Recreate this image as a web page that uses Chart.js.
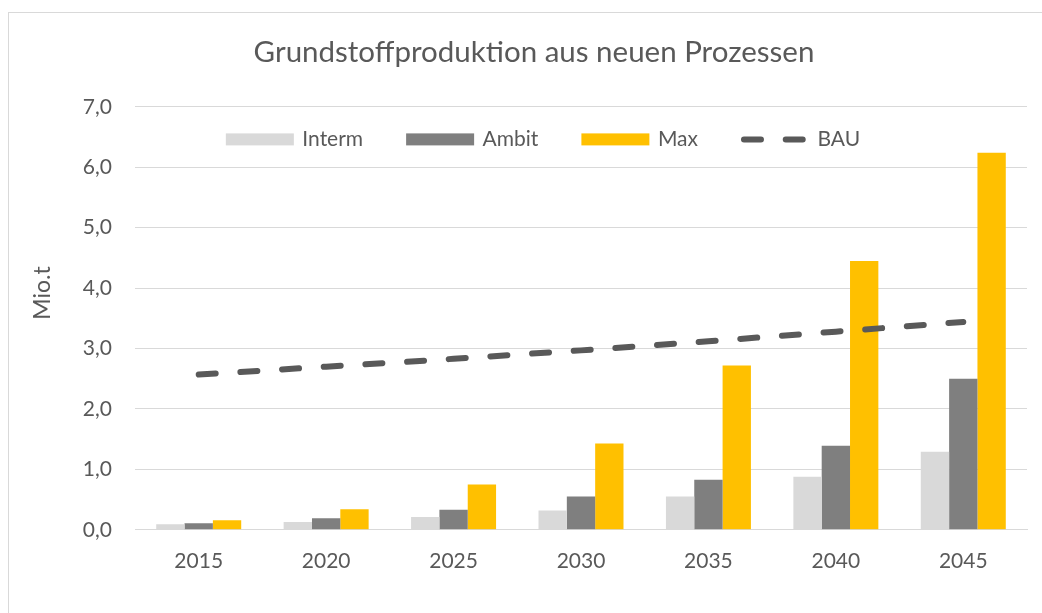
<!DOCTYPE html>
<html>
<head>
<meta charset="utf-8">
<script src="https://cdn.jsdelivr.net/npm/chart.js@4/dist/chart.umd.min.js"></script>
<style>
html,body{margin:0;padding:0;background:#fff;}
#wrap{width:1042px;height:613px;position:relative;}
</style>
</head>
<body>
<div id="wrap"><canvas id="c" width="1042" height="613"></canvas></div>
<script>
const categories = ["2015","2020","2025","2030","2035","2040","2045"];
const interm = [0.09, 0.13, 0.21, 0.32, 0.55, 0.88, 1.29];
const ambit  = [0.11, 0.19, 0.33, 0.55, 0.83, 1.39, 2.50];
const maxv   = [0.16, 0.34, 0.75, 1.43, 2.72, 4.45, 6.24];
const bau    = [2.57, 2.70, 2.83, 2.97, 3.12, 3.28, 3.44];
const yTicks = [0,1,2,3,4,5,6,7];
const titleText = "Grundstoffproduktion aus neuen Prozessen";
const yTitle = "Mio.t";

const FONT = "Lato, 'Open Sans', sans-serif";
const TXT = "#595959";

const framePlugin = {
  id: 'frame',
  beforeDraw(chart){
    const ctx = chart.ctx;
    ctx.save();
    ctx.fillStyle = '#fff';
    ctx.fillRect(0,0,chart.width,chart.height);
    ctx.strokeStyle = '#d9d9d9';
    ctx.lineWidth = 1;
    ctx.strokeRect(8.5, 12.5, 1200, 800);
    ctx.restore();
  }
};

const extrasPlugin = {
  id: 'extras',
  afterDraw(chart){
    const ctx = chart.ctx;
    const area = chart.chartArea;
    ctx.save();
    // y axis title
    ctx.fillStyle = TXT;
    ctx.font = "23px " + FONT;
    ctx.textAlign = 'center';
    ctx.textBaseline = 'middle';
    ctx.translate(42.5, area.top + (area.bottom - area.top) * 0.44);
    ctx.rotate(-Math.PI/2);
    ctx.fillText(yTitle, 0, 0);
    ctx.restore();

    // legend
    ctx.save();
    ctx.font = "21px " + FONT;
    ctx.textBaseline = 'middle';
    ctx.textAlign = 'left';
    const ds = chart.data.datasets;
    const order = [1,2,3,0];
    const boxW = 68, boxH = 12, gapT = 8.5, gapI = 43;
    let total = 0;
    order.forEach((idx,k)=>{
      total += boxW + gapT + ctx.measureText(ds[idx].label).width;
      if (k < order.length-1) total += gapI;
    });
    const cx = (area.left + area.right)/2 - 38;
    let x = cx - total/2;
    const yc = area.top + 32.5;
    order.forEach(idx=>{
      const d = ds[idx];
      if (d.type === 'line') {
        ctx.save();
        ctx.strokeStyle = d.borderColor;
        ctx.lineWidth = d.borderWidth;
        ctx.lineCap = 'round';
        ctx.setLineDash(d.borderDash);
        ctx.beginPath();
        ctx.moveTo(x + 3, yc);
        ctx.lineTo(x + boxW - 3, yc);
        ctx.stroke();
        ctx.restore();
      } else {
        ctx.fillStyle = d.backgroundColor;
        ctx.fillRect(x, yc - boxH/2, boxW, boxH);
      }
      x += boxW + gapT;
      ctx.fillStyle = TXT;
      ctx.fillText(d.label, x, yc);
      x += ctx.measureText(d.label).width + gapI;
    });
    ctx.restore();
  }
};

new Chart(document.getElementById('c'), {
  data: {
    labels: categories,
    datasets: [
      { type:'line', label:'BAU', data: bau, borderColor:'#595959', borderWidth:6,
        borderDash:[17, 24.75], borderCapStyle:'round', pointRadius:0, fill:false, order:0, tension:0 },
      { type:'bar', label:'Interm', data: interm, backgroundColor:'#d9d9d9', order:1 },
      { type:'bar', label:'Ambit', data: ambit, backgroundColor:'#7f7f7f', order:1 },
      { type:'bar', label:'Max', data: maxv, backgroundColor:'#ffc000', order:1 }
    ]
  },
  options: {
    responsive:false,
    animation:false,
    devicePixelRatio:1,
    layout:{ padding:{ left:41, right:15, top:12, bottom:20 } },
    datasets:{ bar:{ categoryPercentage:0.667, barPercentage:1.0, borderWidth:0 } },
    plugins:{
      legend:{ display:false },
      tooltip:{ enabled:false },
      title:{ display:true, text:titleText, color:TXT,
        font:{ family:FONT, size:29.5, weight:'normal', lineHeight:1.2 },
        padding:{ top:23, bottom:36.5 } }
    },
    scales:{
      x:{
        grid:{ display:false, drawTicks:false },
        border:{ display:true, color:'#d9d9d9', width:1 },
        ticks:{ color:TXT, font:{ family:FONT, size:21, lineHeight:1.2 }, padding:19, maxRotation:0 }
      },
      y:{
        min:0, max:7,
        afterBuildTicks(scale){ scale.ticks = yTicks.map(v=>({value:v})); },
        afterFit(scale){ scale.width = 94; },
        grid:{ color:'#d9d9d9', lineWidth:1, drawTicks:false },
        border:{ display:false },
        ticks:{ color:TXT, font:{ family:FONT, size:21 }, padding:23,
          callback:(v)=> Number(v).toLocaleString('de-DE',{minimumFractionDigits:1, maximumFractionDigits:1}) }
      }
    }
  },
  plugins:[framePlugin, extrasPlugin]
});
</script>
</body>
</html>
